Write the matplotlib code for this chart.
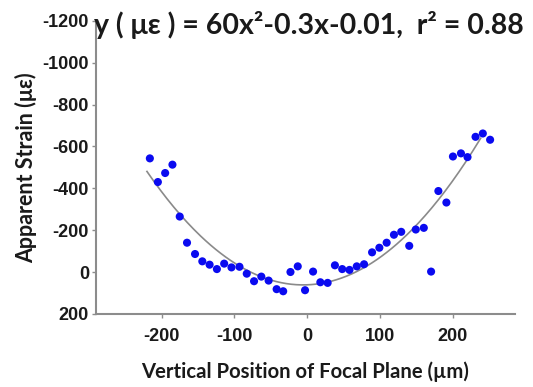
import numpy as np
import matplotlib
matplotlib.use("Agg")
import matplotlib.pyplot as plt

plt.rcParams["axes.unicode_minus"] = False

# focal plane position (um) and apparent strain (micro-strain)
pos = [-216, -205, -195, -185, -175, -165, -154, -144, -134, -124,
       -114, -104, -93, -83, -73, -63, -53, -42, -33, -23,
       -13, -3, 8, 18, 28, 38, 48, 58, 68, 78,
       89, 99, 109, 119, 129, 140, 149, 160, 170, 180,
       191, 200, 211, 220, 231, 241, 251]
strain = [-543, -430, -473, -513, -265, -140, -86, -51, -35, -14,
          -40, -22, -25, 8, 44, 22, 41, 82, 92, 0,
          -27, 87, -2, 49, 52, -32, -14, -10, -27, -37,
          -94, -116, -140, -178, -192, -125, -203, -211, -2, -387,
          -332, -552, -567, -549, -646, -662, -632]

yticks = [200, 0, -200, -400, -600, -800, -1000, -1200]
xticks = [-200, -100, 0, 100, 200]

title = "y ( \u03bc\u03b5 ) = 60x\u00b2-0.3x-0.01,  r\u00b2 = 0.88"

fig = plt.figure(figsize=(5.33, 3.87), dpi=100)
ax = fig.add_axes([0.180, 0.189, 0.786, 0.757])

# quadratic fit of the points, like the trend line in the original
coef = np.polyfit(pos, strain, 2)
xf = np.linspace(-220, 238, 200)
ax.plot(xf, np.polyval(coef, xf), color="#8a8a8a", lw=1.2, zorder=1)
ax.scatter(pos, strain, s=34, color="#0a0af0", edgecolors="none", zorder=2)

ax.set_xlim(-290, 285)
ax.set_ylim(200, -1200)
ax.set_xticks(xticks)
ax.set_yticks(yticks)

for s in ["top", "right"]:
    ax.spines[s].set_visible(False)
for s in ["left", "bottom"]:
    ax.spines[s].set_color("#8c8c8c")
    ax.spines[s].set_linewidth(1.5)
ax.tick_params(axis="both", colors="#8c8c8c", length=3, width=1, labelcolor="#1a1a1a")
ax.tick_params(axis="x", pad=7)
ax.tick_params(axis="y", pad=2)
for lab in ax.get_xticklabels() + ax.get_yticklabels():
    lab.set_fontfamily("Liberation Sans")
    lab.set_fontweight("bold")
    lab.set_fontsize(13)

ax.set_xlabel("Vertical Position of Focal Plane (\u00b5m)", fontfamily="Lato",
              fontweight="bold", fontsize=14.6, labelpad=12, color="#1a1a1a")
ax.set_ylabel("Apparent Strain (\u03bc\u03b5)", fontfamily="Lato",
              fontweight="bold", fontsize=15.5, labelpad=4, color="#1a1a1a")

fig.text(0.176, 0.935, title, fontfamily="Lato", fontweight="bold",
         fontsize=20.5, color="#1a1a1a", ha="left", va="center")

fig.savefig("out.png", dpi=100)
